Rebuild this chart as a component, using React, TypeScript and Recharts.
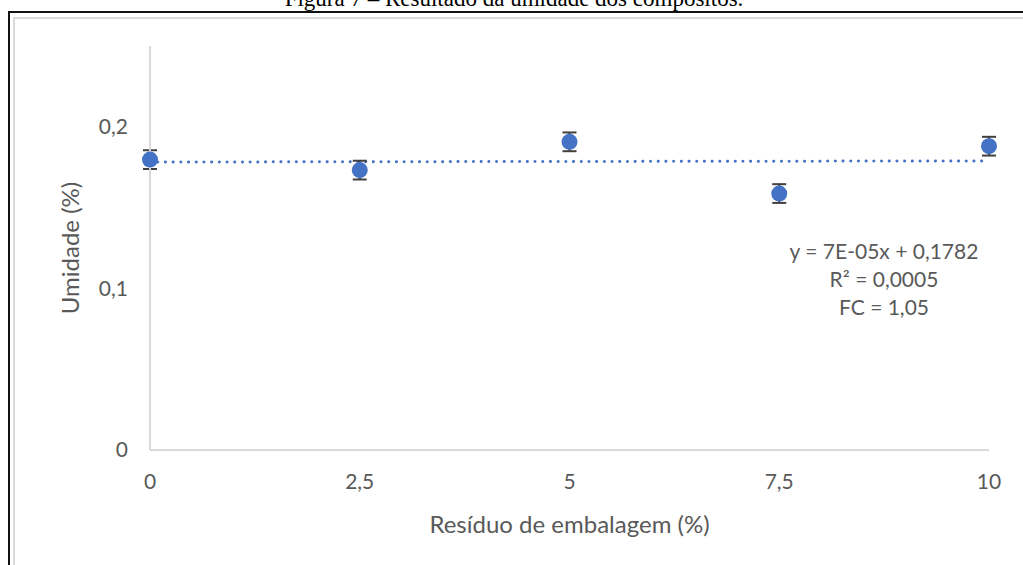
import React from "react";
import {
  ComposedChart,
  Scatter,
  Line,
  ErrorBar,
  XAxis,
  YAxis,
} from "recharts";

// residue content (%) on x, moisture (%) on y
const residue = [0, 2.5, 5, 7.5, 10];
const moisture = [0.1797, 0.1732, 0.1907, 0.1587, 0.188];
const moistureError = [0.0058, 0.0058, 0.0058, 0.0058, 0.0058];

// linear trend shown in the annotation
const trendSlope = 0.00007;
const trendIntercept = 0.1782;

const xTicks = [0, 2.5, 5, 7.5, 10];
const yTicks = [0, 0.1, 0.2];

const equationLines = ["y = 7E-05x + 0,1782", "R² = 0,0005", "FC = 1,05"];

const BLUE = "#4472C4";
const TEXT = "#595959";
const FONT = "Lato, 'Noto Sans', sans-serif";

const points = residue.map((x, i) => ({
  x,
  y: moisture[i],
  err: moistureError[i],
}));

const trend = [0, 10].map((x) => ({ x, y: trendSlope * x + trendIntercept }));

const commaFmt = (v: number) => String(v).replace(".", ",");

const Dot = (props: any) => (
  <circle cx={props.cx} cy={props.cy} r={8} fill={BLUE} />
);

export default function App() {
  return (
    <div
      style={{
        position: "absolute",
        left: 0,
        top: 0,
        width: 1023,
        height: 565,
        overflow: "hidden",
        background: "#fff",
      }}
    >
      {/* caption, cut off by the top edge */}
      <div
        style={{
          position: "absolute",
          top: -13,
          left: 0,
          width: 1028,
          textAlign: "center",
          fontFamily: "'Liberation Serif', 'Times New Roman', serif",
          fontSize: 23,
          lineHeight: "23px",
          color: "#000",
        }}
      >
        Figura 7 – Resultado da umidade dos compósitos.
      </div>

      {/* page frame and chart area border */}
      <div style={{ position: "absolute", left: 8, top: 11, width: 1015, height: 2, background: "#111" }} />
      <div style={{ position: "absolute", left: 8, top: 11, width: 2, height: 554, background: "#111" }} />
      <div style={{ position: "absolute", left: 13, top: 17, width: 1010, height: 2, background: "#d9d9d9" }} />
      <div style={{ position: "absolute", left: 13, top: 17, width: 2, height: 548, background: "#d9d9d9" }} />

      <div style={{ position: "absolute", left: 0, top: 0 }}>
        <ComposedChart
          width={1023}
          height={565}
          margin={{ top: 46, right: 34, left: 0, bottom: 0 }}
        >
          <XAxis
            dataKey="x"
            type="number"
            domain={[0, 10]}
            ticks={xTicks}
            tickFormatter={commaFmt}
            height={115}
            axisLine={{ stroke: "#d9d9d9", strokeWidth: 2 }}
            tickLine={false}
            tickSize={0}
            tickMargin={24}
            tick={{ fill: TEXT, fontSize: 21, fontFamily: FONT }}
            label={{
              value: "Resíduo de embalagem (%)",
              position: "insideBottom",
              offset: 32,
              fill: TEXT,
              fontSize: 24,
              fontFamily: FONT,
            }}
          />
          <YAxis
            type="number"
            domain={[0, 0.25]}
            ticks={yTicks}
            tickFormatter={commaFmt}
            width={150}
            axisLine={{ stroke: "#d9d9d9", strokeWidth: 2 }}
            tickLine={false}
            tickSize={0}
            tickMargin={22}
            tick={{ fill: TEXT, fontSize: 21, fontFamily: FONT }}
            label={{
              value: "Umidade (%)",
              angle: -90,
              position: "insideLeft",
              offset: 70,
              fill: TEXT,
              fontSize: 24,
              fontFamily: FONT,
              style: { textAnchor: "middle" },
            }}
          />
          <Line
            data={trend}
            dataKey="y"
            type="linear"
            dot={false}
            activeDot={false}
            stroke={BLUE}
            strokeWidth={3}
            strokeDasharray="0.1 7.6"
            strokeLinecap="round"
            isAnimationActive={false}
          />
          <Scatter
            data={points}
            dataKey="y"
            shape={Dot}
            isAnimationActive={false}
          >
            <ErrorBar
              dataKey="err"
              direction="y"
              width={7}
              stroke="#404040"
              strokeWidth={2}
            />
          </Scatter>
        </ComposedChart>
      </div>

      {/* trendline annotation */}
      <div
        style={{
          position: "absolute",
          left: 784,
          top: 237,
          width: 200,
          textAlign: "center",
          fontFamily: FONT,
          fontSize: 21,
          lineHeight: "28px",
          color: TEXT,
        }}
      >
        {equationLines.map((t) => (
          <div key={t}>{t}</div>
        ))}
      </div>
    </div>
  );
}
